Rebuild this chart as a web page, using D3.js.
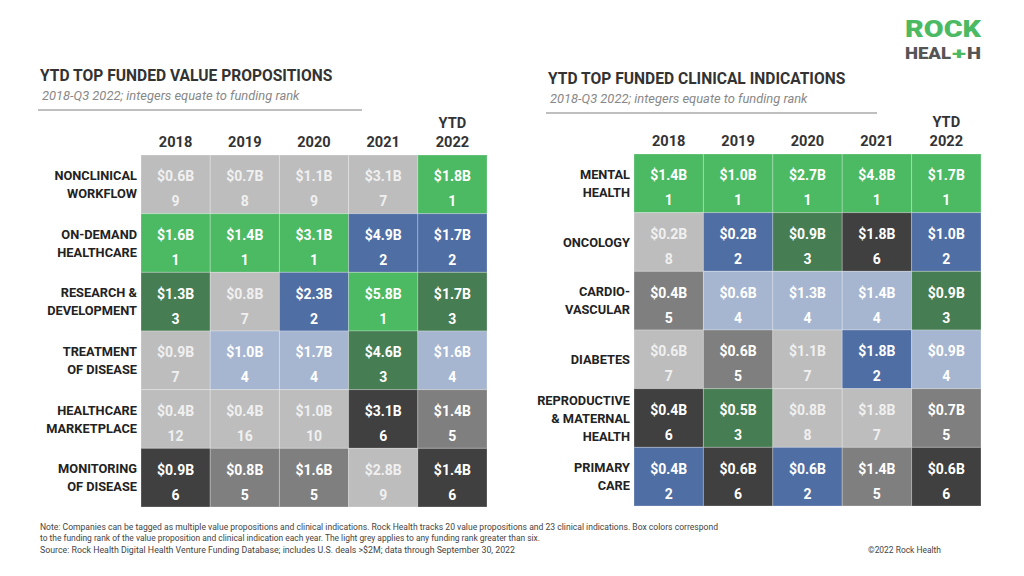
<!DOCTYPE html>
<html><head><meta charset="utf-8">
<script src="https://cdn.jsdelivr.net/npm/d3@7"></script>
<style>body{margin:0;background:#fff;} svg{display:block;font-family:Roboto,"Noto Sans",sans-serif;}</style>
</head><body>
<svg id="c" width="1024" height="576"></svg>
<script>
const years = ["2018", "2019", "2020", "2021", "2022"];
const yearLabels = [["2018"], ["2019"], ["2020"], ["2021"], ["YTD", "2022"]];

const vpCategories = [["NONCLINICAL", "WORKFLOW"], ["ON-DEMAND", "HEALTHCARE"], ["RESEARCH &", "DEVELOPMENT"], ["TREATMENT", "OF DISEASE"], ["HEALTHCARE", "MARKETPLACE"], ["MONITORING", "OF DISEASE"]];
const vpValues = [
  [0.6, 0.7, 1.1, 3.1, 1.8],
  [1.6, 1.4, 3.1, 4.9, 1.7],
  [1.3, 0.8, 2.3, 5.8, 1.7],
  [0.9, 1.0, 1.7, 4.6, 1.6],
  [0.4, 0.4, 1.0, 3.1, 1.4],
  [0.9, 0.8, 1.6, 2.8, 1.4]
];
const vpRanks = [
  [9, 8, 9, 7, 1],
  [1, 1, 1, 2, 2],
  [3, 7, 2, 1, 3],
  [7, 4, 4, 3, 4],
  [12, 16, 10, 6, 5],
  [6, 5, 5, 9, 6]
];

const ciCategories = [["MENTAL", "HEALTH"], ["ONCOLOGY"], ["CARDIO-", "VASCULAR"], ["DIABETES"], ["REPRODUCTIVE", "& MATERNAL", "HEALTH"], ["PRIMARY", "CARE"]];
const ciValues = [
  [1.4, 1.0, 2.7, 4.8, 1.7],
  [0.2, 0.2, 0.9, 1.8, 1.0],
  [0.4, 0.6, 1.3, 1.4, 0.9],
  [0.6, 0.6, 1.1, 1.8, 0.9],
  [0.4, 0.5, 0.8, 1.8, 0.7],
  [0.4, 0.6, 0.6, 1.4, 0.6]
];
const ciRanks = [
  [1, 1, 1, 1, 1],
  [8, 2, 3, 6, 2],
  [5, 4, 4, 4, 3],
  [7, 5, 7, 2, 4],
  [6, 3, 8, 7, 5],
  [2, 6, 2, 5, 6]
];

const rankKeys = [1, 2, 3, 4, 5, 6];
const rankColors = ["#4cb963", "#4f6ea4", "#467d52", "#a6b6d0", "#7f7f7f", "#404040"];
const otherColor = "#bdbdbd";

const svg = d3.select("#c");
const color = d3.scaleOrdinal().domain(rankKeys).range(rankColors).unknown(otherColor);

function panel(opt) {
  const g = svg.append("g");
  g.append("text").attr("x", opt.tx).attr("y", opt.ty).text(opt.title)
    .attr("font-size", 15.6).attr("font-weight", 700).attr("fill", "#333");
  g.append("text").attr("x", opt.tx + 2).attr("y", opt.ty + 19).text("2018-Q3 2022; integers equate to funding rank")
    .attr("font-size", 12.9).attr("font-style", "italic").attr("fill", "#888");
  g.append("line").attr("x1", opt.tx - 2).attr("x2", opt.lineX2).attr("y1", opt.ty + 29).attr("y2", opt.ty + 29)
    .attr("stroke", "#aaa").attr("stroke-width", 1.3);

  const x = d3.scaleBand().domain(years).range([opt.x0, opt.x1]);
  const y = d3.scaleBand().domain(d3.range(opt.cats.length)).range([opt.y0, opt.y1]);

  // headers
  years.forEach((yr, i) => {
    const lines = yearLabels[i];
    lines.forEach((l, j) => {
      g.append("text").attr("x", x(yr) + x.bandwidth() / 2)
        .attr("y", opt.y0 - 8 - (lines.length - 1 - j) * 19.5)
        .attr("text-anchor", "middle").attr("font-size", 14.6).attr("font-weight", 700).attr("fill", "#333").text(l);
    });
  });

  // row labels
  opt.cats.forEach((lines, r) => {
    const cy = y(r) + y.bandwidth() / 2;
    const lh = 18;
    lines.forEach((l, j) => {
      g.append("text").attr("x", opt.x0 - 4)
        .attr("y", cy + (j - (lines.length - 1) / 2) * lh + 4.5)
        .attr("text-anchor", "end").attr("font-size", 12.8).attr("font-weight", 700).attr("fill", "#222").text(l);
    });
  });

  const cells = [];
  opt.vals.forEach((row, r) => row.forEach((v, c) => cells.push({ r, c, v, rank: opt.ranks[r][c] })));

  const cg = g.selectAll("g.cell").data(cells).join("g").attr("class", "cell")
    .attr("transform", d => `translate(${x(years[d.c])},${y(d.r)})`);
  cg.append("rect").attr("width", x.bandwidth()).attr("height", y.bandwidth())
    .attr("fill", d => color(d.rank)).attr("stroke", "rgba(255,255,255,0.25)").attr("stroke-width", 1);
  cg.append("text").attr("x", x.bandwidth() / 2).attr("y", y.bandwidth() / 2 - 3)
    .attr("text-anchor", "middle").attr("font-size", 14).attr("font-weight", 700)
    .attr("fill", d => d.rank > 6 ? "#f0f0f0" : "#fff").text(d => "$" + d.v.toFixed(1) + "B");
  cg.append("text").attr("x", x.bandwidth() / 2).attr("y", y.bandwidth() / 2 + 22)
    .attr("text-anchor", "middle").attr("font-size", 14).attr("font-weight", 700)
    .attr("fill", d => d.rank > 6 ? "#f0f0f0" : "#fff").text(d => d.rank);
}

panel({ title: "YTD TOP FUNDED VALUE PROPOSITIONS", tx: 40, ty: 81, lineX2: 362,
  x0: 141, x1: 487, y0: 155, y1: 507, cats: vpCategories, vals: vpValues, ranks: vpRanks });
panel({ title: "YTD TOP FUNDED CLINICAL INDICATIONS", tx: 548, ty: 84, lineX2: 877,
  x0: 634, x1: 981, y0: 154, y1: 506, cats: ciCategories, vals: ciValues, ranks: ciRanks });

// logo
const logo = svg.append("g").attr("font-weight", 900);
logo.append("text").attr("x", 905).attr("y", 37).attr("font-size", 23).attr("fill", "#4cb963")
  .attr("textLength", 76).attr("lengthAdjust", "spacingAndGlyphs").text("ROCK");
logo.append("text").attr("x", 905).attr("y", 59).attr("font-size", 17).attr("fill", "#555")
  .attr("textLength", 46).attr("lengthAdjust", "spacingAndGlyphs").text("HEAL");
logo.append("text").attr("x", 952).attr("y", 59).attr("font-size", 17).attr("fill", "#4cb963")
  .attr("textLength", 14).attr("lengthAdjust", "spacingAndGlyphs").text("+");
logo.append("text").attr("x", 967).attr("y", 59).attr("font-size", 17).attr("fill", "#555")
  .attr("textLength", 14).attr("lengthAdjust", "spacingAndGlyphs").text("H");

// footer
const notes = [
  "Note: Companies can  be tagged as multiple value propositions and clinical indications. Rock Health tracks 20 value propositions and 23 clinical indications. Box colors correspond",
  "to the funding rank of the value proposition and clinical indication each year. The light grey applies to any funding rank greater than six.",
  "Source: Rock Health Digital Health Venture Funding Database; includes U.S. deals >$2M; data through September  30, 2022"
];
const noteW = [678, 500, 475];
notes.forEach((t, i) => {
  svg.append("text").attr("x", 40).attr("y", 530 + i * 11.3).attr("font-size", 8.3).attr("fill", "#444")
    .attr("textLength", noteW[i]).attr("lengthAdjust", "spacingAndGlyphs").text(t);
});
svg.append("text").attr("x", 868).attr("y", 553).attr("font-size", 8.3).attr("fill", "#444")
  .attr("textLength", 73).attr("lengthAdjust", "spacingAndGlyphs").text("©2022 Rock Health");
</script>
</body></html>
